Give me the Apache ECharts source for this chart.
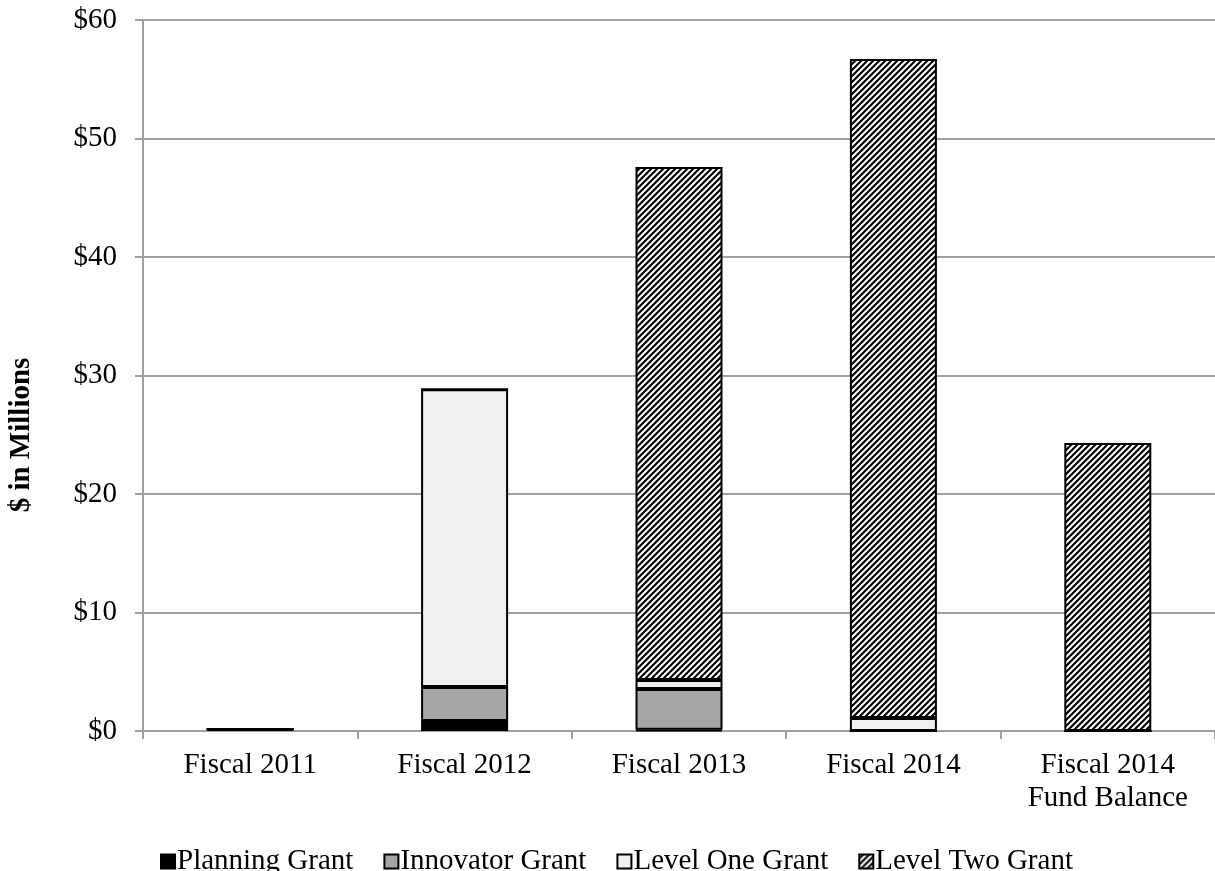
<!DOCTYPE html>
<html>
<head>
<meta charset="utf-8">
<script src="https://cdn.jsdelivr.net/npm/echarts@6/dist/echarts.min.js"></script>
<style>
html, body { margin: 0; padding: 0; background: #fff; }
#main { width: 1215px; height: 871px; }
</style>
</head>
<body>
<div id="main"></div>
<script>
// categories and values, $ in millions
var categories = ["Fiscal 2011", "Fiscal 2012", "Fiscal 2013", "Fiscal 2014", "Fiscal 2014\nFund Balance"];
var planningGrant = [0.15, 0.84, 0.1, 0, 0];
var innovatorGrant = [0, 2.87, 3.45, 0, 0];
var levelOneGrant = [0, 25.14, 0.75, 1.1, 0];
var levelTwoGrant = [0, 0, 43.3, 55.6, 24.3];
var yTicks = [0, 10, 20, 30, 40, 50, 60];

var FONT = "Liberation Serif";
var GRAY = "#a0a0a0";

// diagonal hatch used by "Level Two Grant"
function makeHatch() {
    var p = 6;
    var c = document.createElement("canvas");
    c.width = p;
    c.height = p;
    var ctx = c.getContext("2d");
    var img = ctx.createImageData(p, p);
    for (var y = 0; y < p; y++) {
        for (var x = 0; x < p; x++) {
            var v = 127.5 + 190 * Math.cos(2 * Math.PI * (x + y) / p);
            v = Math.max(0, Math.min(255, Math.round(v)));
            var i = (y * p + x) * 4;
            img.data[i] = v;
            img.data[i + 1] = v;
            img.data[i + 2] = v;
            img.data[i + 3] = 255;
        }
    }
    ctx.putImageData(img, 0, 0);
    return c;
}
var hatch = makeHatch();

function barSeries(name, data, fill) {
    return {
        name: name,
        type: "bar",
        stack: "total",
        barWidth: 87,
        data: data,
        itemStyle: {
            color: fill,
            borderColor: "#000",
            borderWidth: 2
        }
    };
}

var chart = echarts.init(document.getElementById("main"));
var option = {
    animation: false,
    backgroundColor: "#fff",
    grid: {
        left: 143,
        right: 0,
        top: 20,
        bottom: 140
    },
    legend: {
        left: 155,
        top: 842,
        icon: "rect",
        itemWidth: 14,
        itemHeight: 14,
        itemGap: 30,
        textStyle: {
            fontFamily: FONT,
            fontSize: 29,
            color: "#000",
            padding: [0, 0, 0, -3]
        },
        data: ["Planning Grant", "Innovator Grant", "Level One Grant", "Level Two Grant"]
    },
    xAxis: {
        type: "category",
        data: categories,
        axisLine: { lineStyle: { color: GRAY, width: 2 } },
        axisTick: { show: true, length: 8, lineStyle: { color: GRAY, width: 2 } },
        axisLabel: {
            fontFamily: FONT,
            fontSize: 29,
            color: "#000",
            margin: 18,
            lineHeight: 33
        }
    },
    yAxis: {
        type: "value",
        min: yTicks[0],
        max: yTicks[yTicks.length - 1],
        interval: 10,
        axisLine: { show: true, lineStyle: { color: GRAY, width: 2 } },
        axisTick: { show: true, length: 8, lineStyle: { color: GRAY, width: 2 } },
        splitLine: { lineStyle: { color: GRAY, width: 2 } },
        axisLabel: {
            fontFamily: FONT,
            fontSize: 29,
            color: "#000",
            margin: 26,
            formatter: function (v) { return "$" + v; }
        }
    },
    graphic: [{
        type: "text",
        x: 22,
        y: 435,
        rotation: Math.PI / 2,
        style: {
            text: "$ in Millions",
            font: "bold 29px " + FONT,
            fill: "#000",
            align: "center",
            verticalAlign: "middle"
        }
    }],
    series: [
        barSeries("Planning Grant", planningGrant, "#000"),
        barSeries("Innovator Grant", innovatorGrant, "#a6a6a6"),
        barSeries("Level One Grant", levelOneGrant, "#f0f0f0"),
        barSeries("Level Two Grant", levelTwoGrant, { image: hatch, repeat: "repeat" })
    ]
};
chart.setOption(option);
</script>
</body>
</html>
